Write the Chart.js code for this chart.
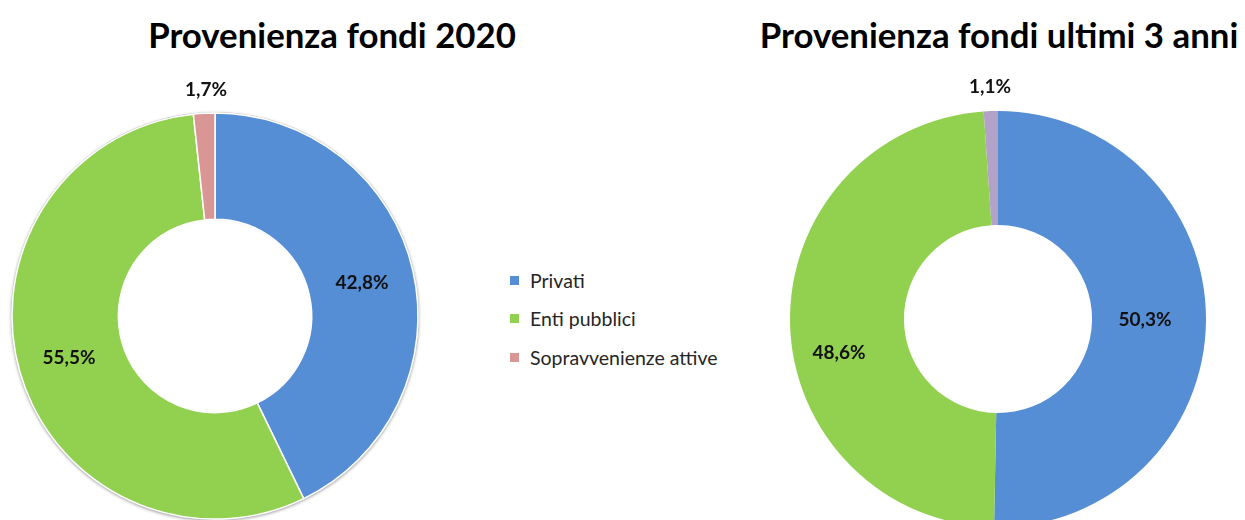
<!DOCTYPE html>
<html><head><meta charset="utf-8">
<script src="https://cdn.jsdelivr.net/npm/chart.js@4.4.0/dist/chart.umd.min.js"></script>
<style>
html,body{margin:0;padding:0;width:1245px;height:520px;overflow:hidden;background:#fff;font-family:Lato,'Open Sans',sans-serif;}
.title{position:absolute;font-weight:bold;font-size:34.8px;line-height:40px;color:#000;white-space:nowrap;transform:translateX(-50%);}
#c1{position:absolute;left:0;top:0;}
#c2{position:absolute;left:768px;top:0;}
#legend{position:absolute;left:510px;top:261px;}
.item{display:flex;align-items:center;height:38.5px;font-size:19.5px;color:#262626;white-space:nowrap;}
.sw{width:9px;height:9px;margin-right:11px;}
</style></head>
<body>
<div class="title" id="t1" style="left:332px;top:15px">Provenienza fondi 2020</div>
<div class="title" id="t2" style="left:999px;top:15px">Provenienza fondi ultimi 3 anni</div>
<canvas id="c1" width="430" height="632"></canvas>
<canvas id="c2" width="460" height="638"></canvas>
<div id="legend"></div>
<script>
const categories = ['Privati', 'Enti pubblici', 'Sopravvenienze attive'];
const values2020 = [42.8, 55.5, 1.7];
const values3y = [50.3, 48.6, 1.1];
const colors2020 = ['#558ED5', '#92D050', '#D99694'];
const colors3y = ['#558ED5', '#92D050', '#B3A2C7'];

const legend = document.getElementById('legend');
categories.forEach((c, i) => {
  const d = document.createElement('div');
  d.className = 'item';
  d.innerHTML = '<span class="sw" style="background:' + colors2020[i] + '"></span><span>' + c + '</span>';
  legend.appendChild(d);
});

const fmt = v => v.toFixed(1).replace('.', ',') + '%';

const labelPlugin = {
  id: 'pctLabels',
  afterDatasetsDraw(chart, args, opts) {
    const ctx = chart.ctx;
    const meta = chart.getDatasetMeta(0);
    const data = chart.data.datasets[0].data;
    const nudges = opts.nudges || [];
    ctx.save();
    ctx.fillStyle = '#111';
    ctx.font = 'bold 19px Lato, "Open Sans", sans-serif';
    ctx.textAlign = 'center';
    ctx.textBaseline = 'middle';
    meta.data.forEach((arc, i) => {
      const v = data[i];
      let x, y;
      if (v < 5) {
        const p = arc.getProps(['x', 'y', 'startAngle', 'endAngle', 'outerRadius'], true);
        const a = (p.startAngle + p.endAngle) / 2;
        const r = p.outerRadius + 22;
        x = p.x + Math.cos(a) * r;
        y = p.y + Math.sin(a) * r;
      } else {
        const c = arc.getCenterPoint();
        x = c.x; y = c.y;
      }
      const n = nudges[i] || [0, 0];
      ctx.fillText(fmt(v), x + n[0], y + n[1]);
    });
    ctx.restore();
  }
};

const shadowPlugin = {
  id: 'ringShadow',
  beforeDatasetsDraw(chart, args, opts) {
    if (!opts.enabled) return;
    const arc = chart.getDatasetMeta(0).data[0];
    const p = arc.getProps(['x', 'y', 'outerRadius', 'innerRadius'], true);
    const ctx = chart.ctx;
    ctx.save();
    ctx.shadowColor = 'rgba(0,0,0,0.35)';
    ctx.shadowBlur = 3;
    ctx.shadowOffsetY = 1;
    ctx.fillStyle = '#c8c8c8';
    ctx.beginPath();
    ctx.arc(p.x, p.y, p.outerRadius + 1, 0, Math.PI * 2);
    ctx.arc(p.x, p.y, p.innerRadius + 2, 0, Math.PI * 2, true);
    ctx.fill();
    ctx.restore();
  }
};

function makeChart(id, values, colors, radius, cutout, border, shadow, nudges) {
  return new Chart(document.getElementById(id), {
    type: 'doughnut',
    data: {
      labels: categories,
      datasets: [{
        data: values,
        backgroundColor: colors,
        borderColor: '#ffffff',
        borderWidth: border
      }]
    },
    options: {
      responsive: false,
      animation: false,
      radius: radius,
      cutout: cutout,
      layout: { padding: 0 },
      plugins: {
        legend: { display: false },
        tooltip: { enabled: false },
        title: { display: false },
        ringShadow: { enabled: shadow },
        pctLabels: { nudges: nudges }
      }
    },
    plugins: [shadowPlugin, labelPlugin]
  });
}

makeChart('c1', values2020, colors2020, 203, 102, 1.5, true, [[1, 0], [-2, 1], [3, -1]]);
makeChart('c2', values3y, colors3y, 208, 104, 0, false, [[-4, -1], [-8, 30], [0, -2]]);
</script>
</body></html>
